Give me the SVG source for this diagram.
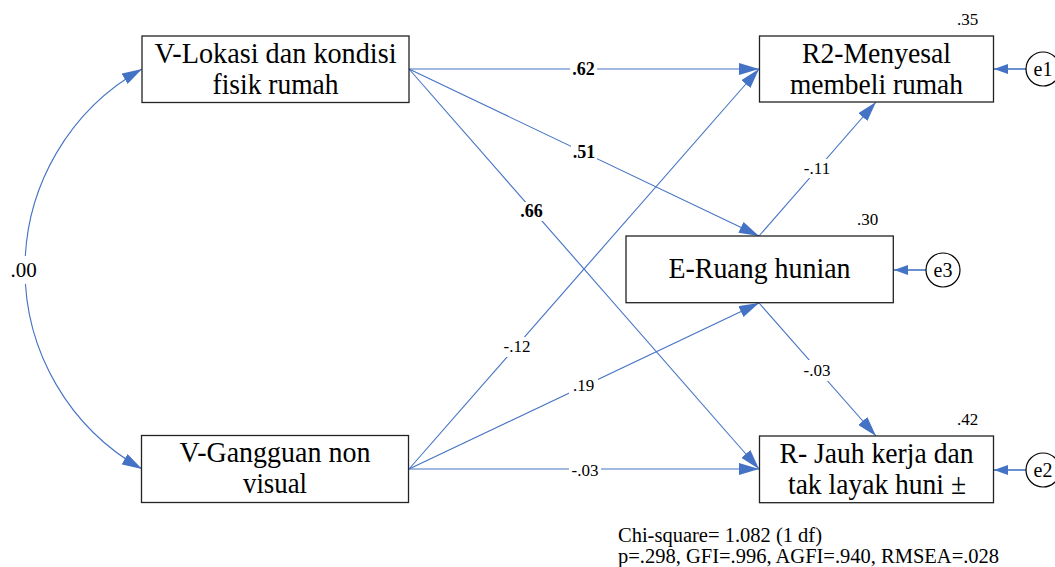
<svg xmlns="http://www.w3.org/2000/svg" width="1055" height="567" viewBox="0 0 1055 567" font-family="'Liberation Serif', 'DejaVu Serif', serif">
  <style>
    text { font-family: "Liberation Serif", "DejaVu Serif", serif; fill: #000; }
    .box { fill: #fff; stroke: #222; stroke-width: 1.3; }
    .bt { font-size: 30px; text-anchor: middle; }
    .lbl { font-size: 17px; text-anchor: middle; }
    .bold { font-weight: bold; font-size: 18px; }
    .path { fill: none; stroke: #4472C4; stroke-width: 1.1; }
    .err { fill: none; stroke: #5B85CC; stroke-width: 1.8; }
    .gap { fill: #fff; }
    .circ { fill: #fff; stroke: #000; stroke-width: 1.2; }
    .et { font-size: 20px; text-anchor: middle; }
    .fit { font-size: 20.5px; }
  </style>
  <defs>
    <marker id="ah" markerWidth="20" markerHeight="12" refX="20" refY="6" orient="auto-start-reverse" markerUnits="userSpaceOnUse">
      <path d="M0,0 L20,6 L0,12 z" fill="#4472C4"/>
    </marker>
    <marker id="ahs" markerWidth="14" markerHeight="10" refX="14" refY="5" orient="auto" markerUnits="userSpaceOnUse">
      <path d="M0,0 L14,5 L0,10 z" fill="#4472C4"/>
    </marker>
  </defs>

  <rect width="1055" height="567" fill="#fff"/>

  <!-- paths, covariance and error terms -->
  <g id="connectors">
    <path class="path" d="M142,69 A229.4,229.4 0 0 0 142,469" marker-start="url(#ah)" marker-end="url(#ah)"/>
    <line class="path" x1="409" y1="69" x2="759" y2="69" marker-end="url(#ah)"/>
    <line class="path" x1="409" y1="69" x2="759" y2="236" marker-end="url(#ah)"/>
    <line class="path" x1="409" y1="69" x2="759" y2="469" marker-end="url(#ah)"/>
    <line class="path" x1="409" y1="469" x2="759" y2="69" marker-end="url(#ah)"/>
    <line class="path" x1="409" y1="469" x2="759" y2="303" marker-end="url(#ah)"/>
    <line class="path" x1="409" y1="469" x2="759" y2="469" marker-end="url(#ah)"/>
    <line class="path" x1="759" y1="236" x2="876" y2="102" marker-end="url(#ah)"/>
    <line class="path" x1="759" y1="303" x2="876" y2="436" marker-end="url(#ah)"/>
    <line class="err" x1="1026" y1="69" x2="994" y2="69" marker-end="url(#ahs)"/>
    <line class="err" x1="926" y1="270" x2="894" y2="270" marker-end="url(#ahs)"/>
    <line class="err" x1="1026" y1="470" x2="994" y2="470" marker-end="url(#ahs)"/>
  </g>

  <!-- coefficient labels -->
  <g id="coefficients">
    <rect class="gap" x="8" y="256" width="32" height="28"/>
    <text class="lbl" x="23.5" y="277" style="font-size:21px">.00</text>
    <rect class="gap" x="570" y="61" width="27" height="16"/>
    <text class="lbl bold" x="583.5" y="75">.62</text>
    <rect class="gap" x="571" y="145" width="26" height="16"/>
    <text class="lbl bold" x="584" y="158">.51</text>
    <rect class="gap" x="519" y="202" width="25" height="19"/>
    <text class="lbl bold" x="531.5" y="217">.66</text>
    <rect class="gap" x="501" y="337" width="32" height="20"/>
    <text class="lbl" x="517" y="352">-.12</text>
    <rect class="gap" x="569" y="376" width="29" height="19"/>
    <text class="lbl" x="583.5" y="391">.19</text>
    <rect class="gap" x="569" y="461" width="32" height="17"/>
    <text class="lbl" x="585" y="476">-.03</text>
    <rect class="gap" x="802" y="159" width="30" height="19"/>
    <text class="lbl" x="817" y="174">-.11</text>
    <rect class="gap" x="802" y="360" width="30" height="21"/>
    <text class="lbl" x="817" y="376">-.03</text>
    <text class="lbl" x="967.5" y="25">.35</text>
    <text class="lbl" x="867.5" y="225">.30</text>
    <text class="lbl" x="967.5" y="425">.42</text>
  </g>

  <g id="v-lokasi">
    <rect class="box" x="142" y="36" width="267" height="66.5"/>
    <text class="bt" x="275.5" y="63.3" textLength="242" lengthAdjust="spacingAndGlyphs">V-Lokasi dan kondisi</text>
    <text class="bt" x="275.5" y="94.3" textLength="126" lengthAdjust="spacingAndGlyphs">fisik rumah</text>
  </g>

  <g id="v-gangguan">
    <rect class="box" x="141.5" y="435.5" width="267" height="67"/>
    <text class="bt" x="275" y="461.7" textLength="191" lengthAdjust="spacingAndGlyphs">V-Gangguan non</text>
    <text class="bt" x="275" y="492.7" textLength="64" lengthAdjust="spacingAndGlyphs">visual</text>
  </g>

  <g id="r2-menyesal">
    <rect class="box" x="759.5" y="36" width="234" height="66"/>
    <text class="bt" x="876.5" y="63.3" textLength="149" lengthAdjust="spacingAndGlyphs">R2-Menyesal</text>
    <text class="bt" x="876.5" y="94.3" textLength="173" lengthAdjust="spacingAndGlyphs">membeli rumah</text>
  </g>

  <g id="e-ruang">
    <rect class="box" x="626" y="236" width="267.3" height="66.7"/>
    <text class="bt" x="759.5" y="278.3" textLength="182" lengthAdjust="spacingAndGlyphs">E-Ruang hunian</text>
  </g>

  <g id="r-jauh">
    <rect class="box" x="759.5" y="436" width="234" height="66.7"/>
    <text class="bt" x="876.5" y="463.3" textLength="194" lengthAdjust="spacingAndGlyphs">R- Jauh kerja dan</text>
    <text class="bt" x="877" y="494.3" textLength="178" lengthAdjust="spacingAndGlyphs">tak layak huni ±</text>
  </g>

  <g id="e1">
    <circle class="circ" cx="1043" cy="69" r="17"/>
    <text class="et" x="1043" y="76">e1</text>
  </g>
  <g id="e3">
    <circle class="circ" cx="943" cy="270" r="17"/>
    <text class="et" x="943" y="277">e3</text>
  </g>
  <g id="e2">
    <circle class="circ" cx="1043" cy="470" r="17"/>
    <text class="et" x="1043" y="477">e2</text>
  </g>

  <!-- model fit summary -->
  <g id="fit">
    <text class="fit" x="618" y="541.5">Chi-square= 1.082 (1 df)</text>
    <text class="fit" x="618" y="562.5">p=.298, GFI=.996, AGFI=.940, RMSEA=.028</text>
  </g>
</svg>
